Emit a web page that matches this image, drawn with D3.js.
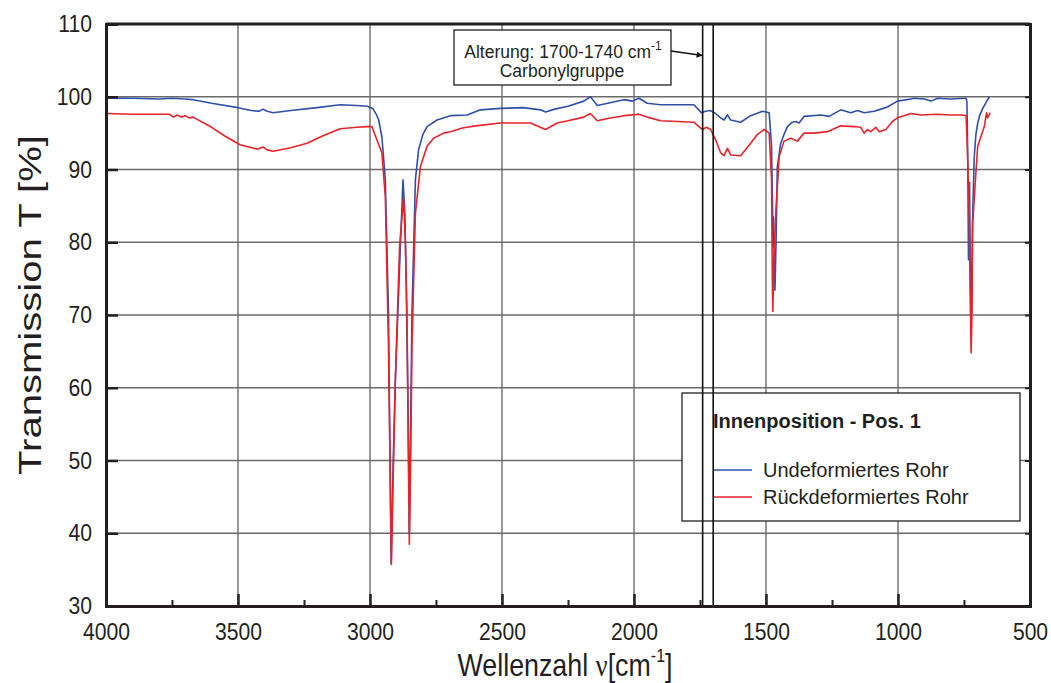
<!DOCTYPE html>
<html>
<head>
<meta charset="utf-8">
<script src="https://cdn.jsdelivr.net/npm/d3@7"></script>
<style>
  body { margin: 0; background: #fff; }
  svg { display: block; }
  text { font-family: "Liberation Sans", Arial, sans-serif; fill: #231f20; }
</style>
</head>
<body>
<svg id="chart" width="1051" height="683"></svg>
<script>
// Axis ticks
const xTicks = [4000, 3500, 3000, 2500, 2000, 1500, 1000, 500];
const xMinorTicks = [3750, 3250, 2750, 2250, 1750, 1250, 750];
const yTicks = [30, 40, 50, 60, 70, 80, 90, 100, 110];
const xGrid = [3500, 3000, 2500, 2000, 1500, 1000];
const yGrid = [40, 50, 60, 70, 80, 90, 100];

// Carbonyl band markers (cm^-1)
const carbonylBand = [1740, 1700];

const legendTitle = "Innenposition - Pos. 1";
const seriesNames = ["Undeformiertes Rohr", "Rückdeformiertes Rohr"];

// FTIR spectra: [wavenumber cm^-1, transmission %]
const undeformed = [
  [4000,99.8],[3900,99.8],[3800,99.7],[3750,99.8],[3700,99.7],[3670,99.6],[3600,99.1],[3500,98.5],
  [3450,98.1],[3420,98.0],[3405,98.3],[3390,98.0],[3367,97.8],[3300,98.1],[3200,98.5],[3113,98.9],
  [3050,98.8],[3010,98.7],[2990,98.4],[2975,97.5],[2967,96.8],[2955,94.5],[2942,88.6],[2930,70.3],
  [2920,35.9],[2912,50],[2904,61],[2885,79.4],[2875,88.6],[2868,84],[2863,74.8],[2855,55],
  [2851,40.0],[2846,55],[2841,70.3],[2828,88.6],[2816,92.7],[2800,94.8],[2784,95.9],[2746,96.8],
  [2695,97.4],[2632,97.5],[2582,98.2],[2506,98.4],[2420,98.5],[2354,98.2],[2335,97.9],[2300,98.3],
  [2250,98.7],[2190,99.4],[2165,100.0],[2139,98.8],[2100,99.1],[2038,99.6],[2006,99.4],[1981,99.8],
  [1950,99.1],[1899,98.9],[1811,98.9],[1773,98.9],[1760,98.4],[1745,97.8],[1729,98.0],[1710,98.1],
  [1691,97.7],[1672,97.1],[1659,96.8],[1646,97.5],[1634,96.8],[1596,96.5],[1558,97.4],[1513,98.0],
  [1488,97.8],[1479,93.2],[1475,84.0],[1474,79.4],[1472,83.5],[1469,79],[1466,73.4],[1462,80],
  [1457,90.4],[1445,93.5],[1432,94.8],[1419,95.9],[1400,96.5],[1387,96.6],[1375,96.4],[1356,97.3],
  [1292,97.5],[1261,97.3],[1217,98.2],[1179,97.8],[1153,98.1],[1128,97.8],[1090,98.0],[1065,98.3],
  [1040,98.6],[1002,99.4],[951,99.7],[939,99.8],[900,99.7],[875,99.4],[850,99.8],[800,99.7],
  [749,99.8],[742,99.8],[739,99.3],[737,95],[735,88],[733,77.6],[731,84],[729,88.2],
  [727,80],[724,72],[721,70.3],[718,82.7],[714,88],[711,91.8],[705,94.8],[698,96.4],
  [690,97.5],[679,98.4],[665,99.3],[654,100.0]
];

const redeformed = [
  [4000,97.7],[3900,97.6],[3800,97.6],[3760,97.6],[3745,97.2],[3730,97.5],[3715,97.2],[3700,97.4],
  [3685,97.1],[3670,97.2],[3600,95.8],[3550,94.6],[3492,93.4],[3427,92.8],[3405,93.1],[3390,92.7],
  [3367,92.5],[3300,93.0],[3238,93.6],[3180,94.6],[3113,95.6],[3050,95.8],[3010,95.9],[2993,95.9],
  [2974,94.1],[2955,92.3],[2942,86.3],[2930,65.7],[2919,35.7],[2912,48],[2904,61],[2888,79.4],
  [2873,86.1],[2866,80],[2860,70.3],[2855,52],[2851,38.5],[2846,50],[2841,65.7],[2828,84],
  [2809,90.4],[2784,93.2],[2759,94.3],[2721,95.0],[2695,95.2],[2650,95.7],[2600,96.0],[2506,96.4],
  [2392,96.4],[2335,95.5],[2291,96.4],[2250,96.7],[2190,97.2],[2165,97.7],[2139,96.7],[2100,97.0],
  [2038,97.4],[1981,97.6],[1950,97.2],[1899,96.7],[1773,96.5],[1754,95.9],[1741,95.5],[1725,95.8],
  [1710,95.5],[1691,94.1],[1672,92.3],[1659,91.9],[1646,92.9],[1634,92.0],[1596,91.9],[1558,93.6],
  [1533,94.8],[1507,95.5],[1488,95.0],[1479,88.6],[1476,74.8],[1474,70.5],[1470,78],[1463,84],
  [1450,91.8],[1432,93.9],[1406,94.3],[1381,93.9],[1356,95.0],[1318,95.0],[1267,95.2],[1217,96.0],
  [1166,95.9],[1141,95.8],[1128,95.0],[1116,95.5],[1103,95.2],[1084,95.8],[1071,95.2],[1046,95.5],
  [1021,96.6],[1002,97.1],[951,97.7],[913,97.5],[850,97.6],[800,97.5],[761,97.5],[742,97.4],
  [736,91.8],[730,82.7],[727,73.5],[723,64.8],[720,70],[717,82.7],[705,89.5],[698,93.2],
  [686,94.5],[673,95.9],[667,97.3],[664,97.8],[661,97.1],[651,97.8]
];

const colors = ["#2f4fa8", "#e8232b"];

const svg = d3.select("#chart");
const plot = { left: 106, right: 1030, top: 24, bottom: 606 };

const x = d3.scaleLinear().domain([4000, 500]).range([plot.left, plot.right]);
const y = d3.scaleLinear().domain([30, 110]).range([plot.bottom, plot.top]);

// grid
const grid = svg.append("g");
grid.selectAll("line.vg").data(xGrid).join("line")
  .attr("x1", d => x(d)).attr("x2", d => x(d))
  .attr("y1", plot.top).attr("y2", plot.bottom)
  .attr("stroke", "#6a6a6a").attr("stroke-width", 1.4);
grid.selectAll("line.hg").data(yGrid).join("line")
  .attr("x1", plot.left).attr("x2", plot.right)
  .attr("y1", d => y(d)).attr("y2", d => y(d))
  .attr("stroke", "#6a6a6a").attr("stroke-width", 1.4);

// spectra
const line = d3.line().x(d => x(d[0])).y(d => y(d[1]));
[undeformed, redeformed].forEach((s, i) => {
  svg.append("path").datum(s)
    .attr("d", line)
    .attr("fill", "none")
    .attr("stroke", colors[i])
    .attr("stroke-width", 1.6)
    .attr("stroke-linejoin", "round");
});

// legend
const lg = svg.append("g");
lg.append("rect").attr("x", 682).attr("y", 393).attr("width", 338).attr("height", 128)
  .attr("fill", "#fff").attr("stroke", "#231f20").attr("stroke-width", 1.3);
lg.append("text").attr("x", 713).attr("y", 428)
  .attr("font-size", 20).attr("font-weight", "bold").text(legendTitle);
seriesNames.forEach((name, i) => {
  const yy = 470 + i * 27;
  lg.append("line").attr("x1", 713).attr("x2", 752).attr("y1", yy).attr("y2", yy)
    .attr("stroke", colors[i]).attr("stroke-width", 1.6);
  lg.append("text").attr("x", 763).attr("y", yy + 7).attr("font-size", 20).text(name);
});

// carbonyl band lines
svg.selectAll("line.cb").data(carbonylBand).join("line")
  .attr("x1", d => x(d)).attr("x2", d => x(d))
  .attr("y1", plot.top).attr("y2", plot.bottom)
  .attr("stroke", "#111").attr("stroke-width", 1.6);

// annotation
const defs = svg.append("defs");
defs.append("marker").attr("id", "arrow").attr("viewBox", "0 0 10 10")
  .attr("refX", 10).attr("refY", 5).attr("markerWidth", 9).attr("markerHeight", 6)
  .attr("markerUnits", "userSpaceOnUse").attr("orient", "auto")
  .append("path").attr("d", "M0,0L10,5L0,10Z").attr("fill", "#111");
const an = svg.append("g");
an.append("rect").attr("x", 454).attr("y", 30).attr("width", 217).attr("height", 55)
  .attr("fill", "#fff").attr("stroke", "#231f20").attr("stroke-width", 1.3);
const t1 = an.append("text").attr("x", 563).attr("y", 58).attr("text-anchor", "middle").attr("font-size", 17.5);
t1.append("tspan").text("Alterung: 1700-1740 cm");
t1.append("tspan").attr("font-size", 12).attr("dy", -8).text("-1");
an.append("text").attr("x", 562).attr("y", 77).attr("text-anchor", "middle").attr("font-size", 17.5)
  .text("Carbonylgruppe");
an.append("line").attr("x1", 671).attr("y1", 51).attr("x2", x(carbonylBand[0])).attr("y2", 55.5)
  .attr("stroke", "#111").attr("stroke-width", 1.3).attr("marker-end", "url(#arrow)");

// axes
const xAxis = svg.append("g").attr("transform", `translate(0,${plot.bottom})`)
  .call(d3.axisBottom(x).tickValues(xTicks).tickSize(-12).tickPadding(17).tickFormat(d3.format("d")));
const yAxis = svg.append("g").attr("transform", `translate(${plot.left},0)`)
  .call(d3.axisLeft(y).tickValues(yTicks).tickSize(-12).tickPadding(16).tickFormat(d3.format("d")));
[xAxis, yAxis].forEach(a => {
  a.select(".domain").attr("stroke", "#231f20").attr("stroke-width", 3);
  a.selectAll(".tick line").attr("stroke", "#231f20").attr("stroke-width", 2.5);
  a.selectAll(".tick text").attr("font-size", 24).attr("fill", "#231f20")
    .attr("font-family", "Liberation Sans, Arial, sans-serif")
    .attr("transform", "scale(0.88,1)");
});
svg.append("g").attr("transform", `translate(0,${plot.bottom})`)
  .call(d3.axisBottom(x).tickValues(xMinorTicks).tickSize(-6).tickFormat(""))
  .call(g => g.select(".domain").remove())
  .selectAll(".tick line").attr("stroke", "#231f20").attr("stroke-width", 2);
svg.append("g").attr("transform", `translate(${plot.right},0)`)
  .call(d3.axisRight(y).tickValues(yTicks).tickSize(-5).tickFormat(""))
  .call(g => g.select(".domain").attr("stroke", "#231f20").attr("stroke-width", 3))
  .selectAll(".tick line").attr("stroke", "#231f20").attr("stroke-width", 2);
svg.append("line").attr("x1", plot.left).attr("x2", plot.right)
  .attr("y1", plot.top).attr("y2", plot.top)
  .attr("stroke", "#231f20").attr("stroke-width", 3);

// axis titles
const xt = svg.append("text").attr("font-size", 32).attr("text-anchor", "middle");
xt.append("tspan").text("Wellenzahl ");
xt.append("tspan").attr("font-family", "Liberation Serif, serif").text("ν");
xt.append("tspan").text("[cm");
xt.append("tspan").attr("font-size", 19).attr("dy", -14).text("-1");
xt.append("tspan").attr("dy", 14).text("]");
{
  const w = xt.node().getBBox().width;
  const sx = 215 / w;
  xt.attr("transform", `translate(565,676) scale(${sx},1)`);
}
const yt = svg.append("text").attr("font-size", 31).attr("text-anchor", "middle")
  .text("Transmission T [%]");
{
  const w = yt.node().getBBox().width;
  const s = 340 / w;
  yt.attr("transform", `translate(41,305) rotate(-90) scale(${s},1)`);
}
</script>
</body>
</html>
